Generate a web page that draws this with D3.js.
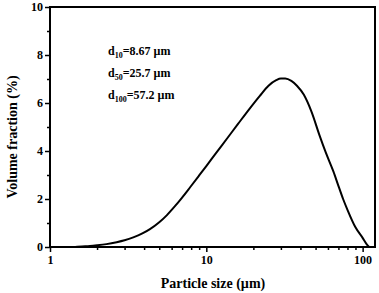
<!DOCTYPE html>
<html><head><meta charset="utf-8">
<script src="https://cdn.jsdelivr.net/npm/d3@7"></script>
<style>
html,body{margin:0;padding:0;background:#fff;}
text{font-family:"Liberation Serif","Times New Roman",serif;font-weight:bold;fill:#000;}
</style></head>
<body><svg id="c" width="379" height="293"></svg>
<script>
const sizes = [1.45,1.6,1.8,2.0,2.3,2.67,3.0,3.41,3.9,4.36,5.0,5.6,6.3,7.0,7.9,9.0,10,11.5,13.5,16,19,22,25,28,30,32,35,38,42,47,53,58,65,70,75,80,90,100,106,110];
const fraction = [0,0.02,0.04,0.07,0.12,0.2,0.28,0.4,0.565,0.745,1.03,1.33,1.7,2.06,2.5,2.98,3.37,3.9,4.5,5.14,5.78,6.3,6.72,6.95,7.02,7.02,6.92,6.72,6.35,5.65,4.65,3.95,3.15,2.55,2.0,1.55,0.82,0.38,0.12,0.0];
const yTicks = [0,2,4,6,8,10];
const yMinor = [1,3,5,7,9];
const xTicks = [1,10,100];
const xMinor = [2,3,4,5,6,7,8,9,20,30,40,50,60,70,80,90];
const notes = [["10","=8.67 µm"],["50","=25.7 µm"],["100","=57.2 µm"]];

const svg = d3.select("#c");
const L=50, R=375, T=7, B=247;
const x = d3.scaleLog().domain([1,120]).range([L,R]);
const y = d3.scaleLinear().domain([0,10]).range([B,T]);

// frame
svg.append("rect").attr("x",L).attr("y",T).attr("width",R-L).attr("height",B-T)
  .attr("fill","none").attr("stroke","#000").attr("stroke-width",2);

// y axis
const ya = svg.append("g").attr("transform",`translate(${L},0)`)
  .call(d3.axisLeft(y).tickValues(yTicks).tickSize(5).tickPadding(2).tickFormat(d3.format("d")));
ya.call(g=>g.select(".domain").remove());
ya.selectAll("line").attr("stroke-width",1.5);
ya.selectAll("text").attr("font-size",12);
const yam = svg.append("g").attr("transform",`translate(${L},0)`)
  .call(d3.axisLeft(y).tickValues(yMinor).tickSize(3).tickFormat(""));
yam.call(g=>g.select(".domain").remove());
yam.selectAll("line").attr("stroke-width",1.5);

// x axis
const xa = svg.append("g").attr("transform",`translate(0,${B})`)
  .call(d3.axisBottom(x).tickValues(xTicks).tickSize(5).tickPadding(3).tickFormat(d3.format("d")));
xa.call(g=>g.select(".domain").remove());
xa.selectAll("line").attr("stroke-width",1.5);
xa.selectAll("text").attr("font-size",12);
const xam = svg.append("g").attr("transform",`translate(0,${B})`)
  .call(d3.axisBottom(x).tickValues(xMinor).tickSize(3).tickFormat(""));
xam.call(g=>g.select(".domain").remove());
xam.selectAll("line").attr("stroke-width",1.5);

// curve
const line = d3.line().x((d,i)=>x(sizes[i])).y(d=>y(d)).curve(d3.curveMonotoneX);
svg.append("path").datum(fraction).attr("d",line).attr("fill","none")
  .attr("stroke","#000").attr("stroke-width",2);

// annotations
notes.forEach((n,i)=>{
  const t = svg.append("text").attr("x",108).attr("y",55+i*22).attr("font-size",12);
  t.append("tspan").text("d");
  t.append("tspan").attr("font-size",8).attr("dy",3).text(n[0]);
  t.append("tspan").attr("dy",-3).text(n[1]);
});

// axis titles
svg.append("text").attr("x",213).attr("y",288).attr("text-anchor","middle")
  .attr("font-size",14).text("Particle size (µm)");
svg.append("text").attr("transform","translate(17,137) rotate(-90)").attr("text-anchor","middle")
  .attr("font-size",14).text("Volume fraction (%)");
</script></body></html>
